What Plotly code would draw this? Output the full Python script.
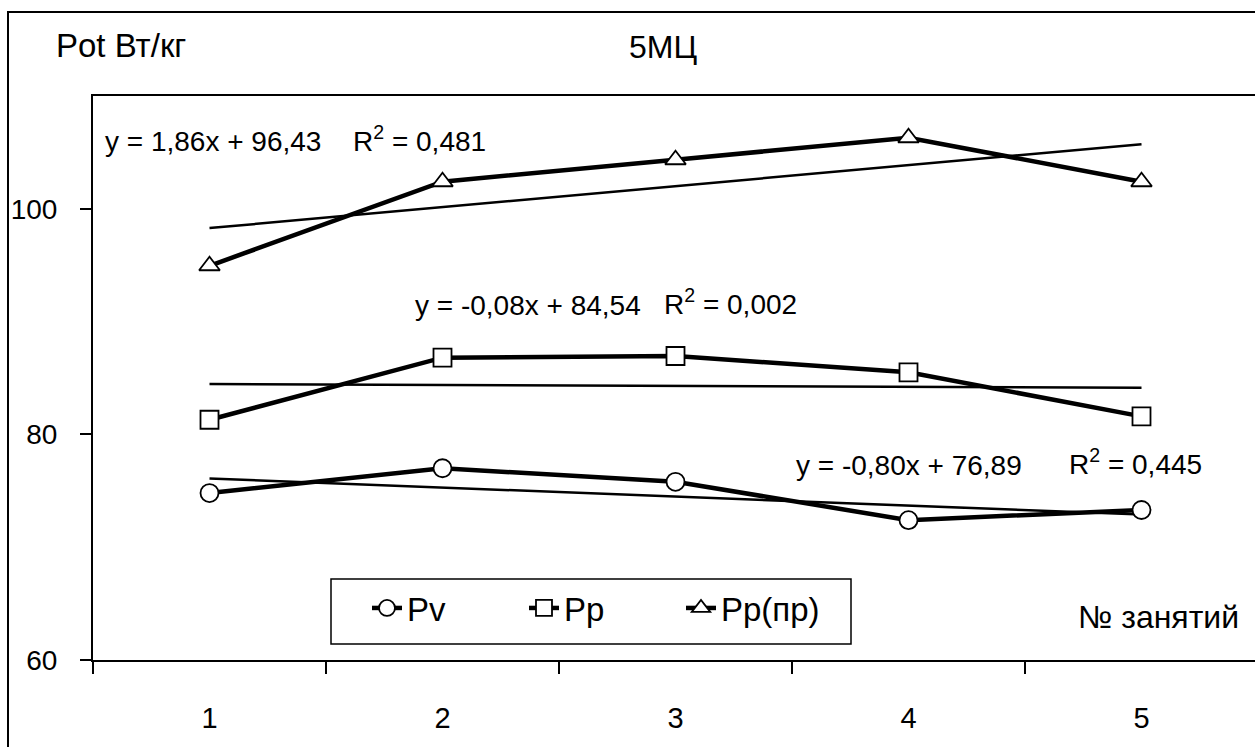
import plotly.graph_objects as go

# Lesson numbers (x categories)
lessons = ["1", "2", "3", "4", "5"]

# Power values, W/kg
pv = [74.8, 77.0, 75.8, 72.4, 73.3]
pp = [81.3, 86.8, 86.95, 85.5, 81.6]
pp_pr = [94.95, 102.4, 104.35, 106.3, 102.4]

series_names = ["Pv", "Pp", "Pp(пр)"]
series_symbols = ["circle", "square", "triangle-up"]

# Linear trend coefficients (slope, intercept) and R^2 for each series
trend_slopes = [-0.80, -0.08, 1.86]
trend_intercepts = [76.89, 84.54, 96.43]
trend_r2 = ["0,445", "0,002", "0,481"]

y_ticks = [60, 80, 100]

FONT = "Liberation Sans, Arial, sans-serif"
FS_TEXT = 33   # titles and legend
FS_NUM = 28    # equations and tick labels

fig = go.Figure()

# Trend lines from the first to the last lesson
for slope, icpt in zip(trend_slopes, trend_intercepts):
    xs = [lessons[0], lessons[-1]]
    ys = [slope * float(v) + icpt for v in xs]
    fig.add_trace(go.Scatter(
        x=xs, y=ys, mode="lines", showlegend=False, hoverinfo="skip",
        line=dict(color="black", width=2.5),
    ))

# Measured series
for name, vals, sym in zip(series_names, [pv, pp, pp_pr], series_symbols):
    fig.add_trace(go.Scatter(
        x=lessons, y=vals, name=name, mode="lines+markers",
        line=dict(color="black", width=4.5),
        marker=dict(symbol=sym, size=18, color="white",
                    line=dict(color="black", width=1.8)),
    ))

W, H = 1255, 747
L, T, B, R = 93, 96, 87, 0
pw = W - L - R
ph = H - T - B


def px(xp):
    return (xp - L) / pw


def py(yp):
    return (H - B - yp) / ph


def num(v):
    return f"{v:.2f}".replace(".", ",")


eq_y = [465, 305, 142]
eq_left = [795, 414, 104]
r2_left = [1068, 663, 352]

annotations = [
    dict(text="Pot Вт/кг", x=px(55), y=py(46), xanchor="left", fs=FS_TEXT),
    dict(text="5МЦ", x=px(663), y=py(47), xanchor="center", fs=FS_TEXT - 1),
    dict(text="№ занятий", x=px(1077), y=py(617), xanchor="left",
         fs=FS_TEXT - 1),
]
for s, c, r2, ey, ex, rx in zip(trend_slopes, trend_intercepts, trend_r2,
                                eq_y, eq_left, r2_left):
    annotations.append(dict(text=f"y = {num(s)}x + {num(c)}",
                            x=px(ex), y=py(ey), xanchor="left", fs=FS_NUM))
    annotations.append(dict(text=f"R<sup>2</sup> = {r2}",
                            x=px(rx), y=py(ey - 3), xanchor="left", fs=FS_NUM))
for a in annotations:
    fs = a.pop("fs")
    a.update(xref="paper", yref="paper", yanchor="middle", showarrow=False,
             borderpad=0, font=dict(family=FONT, size=fs, color="black"))

fig.update_layout(
    width=W, height=H,
    margin=dict(l=L, r=R, t=T, b=B, pad=0),
    paper_bgcolor="white", plot_bgcolor="white",
    font=dict(family=FONT, size=FS_NUM, color="black"),
    showlegend=True,
    legend=dict(
        orientation="h", x=px(367), y=py(580), xanchor="left", yanchor="top",
        borderwidth=0, bgcolor="rgba(0,0,0,0)",
        font=dict(family=FONT, size=FS_TEXT, color="black"),
        entrywidth=112, entrywidthmode="pixels",
        itemclick=False, itemdoubleclick=False,
    ),
    annotations=annotations,
    shapes=[
        # outer chart frame
        dict(type="rect", xref="paper", yref="paper",
             x0=px(8), x1=px(1300), y0=py(800), y1=py(12),
             line=dict(color="black", width=2), fillcolor="rgba(0,0,0,0)",
             layer="below"),
        # legend frame
        dict(type="rect", xref="paper", yref="paper",
             x0=px(331), x1=px(851), y0=py(644), y1=py(579),
             line=dict(color="black", width=1.5), fillcolor="white",
             layer="above"),
    ],
    xaxis=dict(
        type="category", categoryorder="array", categoryarray=lessons,
        range=[-0.5, -0.5 + pw / 233.0],
        tickson="boundaries", ticks="outside", ticklen=12, tickwidth=1.5,
        tickcolor="black", showline=True, linecolor="black", linewidth=2,
        mirror=True, showgrid=False, zeroline=False,
        ticklabelstandoff=31, tickfont=dict(size=FS_NUM + 1),
    ),
    yaxis=dict(
        range=[60, 110], tickvals=y_ticks, ticks="outside", ticklen=11,
        tickwidth=1.5, tickcolor="black", showline=True, linecolor="black",
        linewidth=2, showgrid=False, zeroline=False, ticklabelstandoff=17,
        tickfont=dict(size=FS_NUM),
    ),
)

fig.write_html("out.html")
